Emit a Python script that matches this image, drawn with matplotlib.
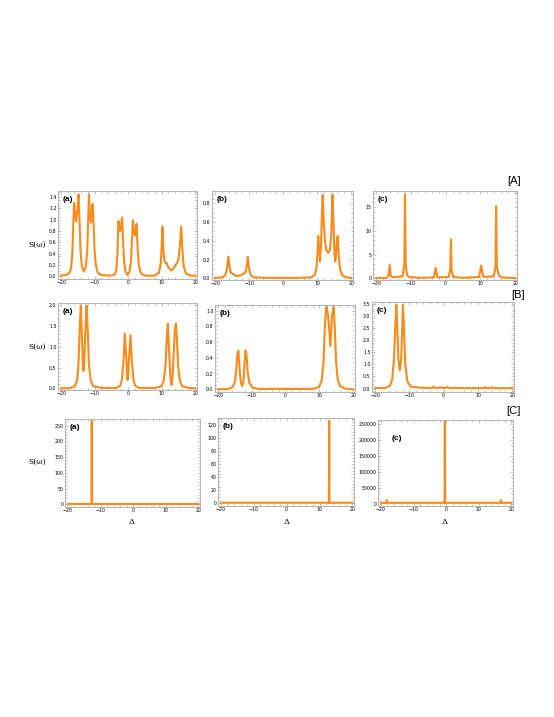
import numpy as np
import matplotlib.pyplot as plt
from matplotlib.ticker import MultipleLocator

# ------------------------------------------------------------
# Data: (delta, S) pairs per panel
# ------------------------------------------------------------

# [A] (a)
aa_x = [-20, -18.5, -17.5, -17, -16.6, -16.3, -16.1, -15.8, -15.5, -15.1, -14.8, -14.5,
        -14.2, -13.8, -13.2, -12.6, -12.2, -11.9, -11.7, -11.4, -11.1, -10.8, -10.6, -10.3,
        -10.0, -9.6, -9.0, -8, -5, -4, -3.5, -3.2, -2.9, -2.6, -2.4, -2.1, -1.8, -1.5,
        -1.2, -0.8, -0.2, 0.4, 0.8, 1.1, 1.4, 1.7, 2.0, 2.25, 2.5, 2.8, 3.2, 3.8, 5, 8,
        9.2, 9.7, 10.0, 10.2, 10.5, 10.8, 11.2, 11.5, 11.9, 12.8, 13.6, 14.1, 14.5, 15.0,
        15.4, 15.8, 16.1, 16.5, 17.2, 18.5, 20]
aa_y = [0.01, 0.02, 0.06, 0.15, 0.45, 1.0, 1.3, 1.1, 0.97, 1.2, 1.45, 1.0,
        0.45, 0.17, 0.08, 0.17, 0.45, 1.0, 1.45, 1.1, 0.95, 1.15, 1.28, 0.9,
        0.45, 0.18, 0.06, 0.02, 0.01, 0.03, 0.12, 0.42, 0.98, 0.85, 0.8, 0.9, 1.04, 0.6,
        0.25, 0.08, 0.02, 0.08, 0.25, 0.6, 0.99, 0.8, 0.72, 0.82, 0.93, 0.5, 0.18, 0.05, 0.01, 0.01,
        0.07, 0.22, 0.55, 0.88, 0.45, 0.27, 0.23, 0.23, 0.16, 0.1, 0.14, 0.2, 0.23, 0.3,
        0.55, 0.88, 0.5, 0.18, 0.05, 0.01, 0.01]

# [A] (b)
ab_x = [-20, -18, -17.1, -16.6, -16.3, -16.1, -15.8, -15.4, -14.9, -14.3, -13.6, -12.6,
        -11.6, -11.0, -10.6, -10.4, -10.1, -9.6, -8.8, -5, 5, 8.3, 9.3, 9.8, 10.1, 10.3,
        10.55, 10.8, 11.1, 11.4, 11.6, 11.9, 12.3, 12.7, 13.2, 13.7, 14.1, 14.3, 14.5,
        14.8, 15.1, 15.3, 15.6, 15.8, 16.0, 16.3, 16.7, 17.4, 18.5, 20]
ab_y = [0.005, 0.008, 0.03, 0.08, 0.17, 0.23, 0.13, 0.06, 0.05, 0.035, 0.025, 0.03,
        0.05, 0.07, 0.15, 0.23, 0.12, 0.04, 0.01, 0.005, 0.005, 0.01, 0.04, 0.12, 0.3, 0.45,
        0.3, 0.18, 0.35, 0.7, 0.89, 0.6, 0.38, 0.3, 0.27, 0.3, 0.45, 0.7, 0.89,
        0.55, 0.25, 0.18, 0.3, 0.4, 0.45, 0.25, 0.1, 0.03, 0.01, 0.005]

# [A] (c)
ac_x = [-20, -17, -16.4, -16.1, -15.8, -15.3, -12.4, -11.9, -11.7, -11.5, -11.1, -10.5,
        -8, -3.4, -2.9, -2.4, 0.9, 1.3, 1.5, 1.7, 2.2, 5, 9.6, 10.2, 10.8, 13.8, 14.3, 14.5,
        14.7, 15.3, 16, 20]
ac_y = [0.05, 0.1, 0.6, 2.8, 0.6, 0.25, 0.4, 3.0, 17.7, 3.0, 0.6, 0.3,
        0.1, 0.2, 2.2, 0.2, 0.3, 2.0, 8.2, 1.5, 0.3, 0.1, 0.3, 2.7, 0.3, 0.4, 2.5, 15.2,
        2.5, 0.6, 0.2, 0.05]

# [B] (a)
ba_x = [-20, -17, -15.8, -15.2, -14.8, -14.4, -14.1, -13.8, -13.5, -13.3, -13.1, -12.8,
        -12.4, -12.1, -11.7, -11.2, -10.5, -8, -3.5, -2.4, -1.9, -1.4, -1.0, -0.6, -0.35,
        -0.2, -0.05, 0.3, 0.7, 1.1, 1.6, 2.1, 3.2, 8, 9.9, 10.6, 11.1, 11.5, 11.8, 12.2,
        12.6, 12.9, 13.2, 13.6, 13.9, 14.2, 14.5, 14.9, 15.4, 16.1, 18, 20]
ba_y = [0.0, 0.01, 0.06, 0.2, 0.6, 1.5, 2.0, 1.3, 0.6, 0.42, 0.6, 1.3,
        2.0, 1.5, 0.6, 0.2, 0.06, 0.01, 0.01, 0.06, 0.2, 0.65, 1.32, 0.8, 0.35,
        0.2, 0.3, 0.8, 1.28, 0.65, 0.2, 0.06, 0.01, 0.01, 0.05, 0.18, 0.55, 1.2, 1.56, 0.9,
        0.25, 0.08, 0.25, 0.9, 1.4, 1.56, 1.2, 0.5, 0.17, 0.05, 0.01, 0.0]

# [B] (b)
bb_x = [-20, -17, -15.6, -15.0, -14.6, -14.3, -14.0, -13.7, -13.3, -12.9, -12.5, -12.2,
        -11.9, -11.6, -11.2, -10.7, -9.8, -8, 8, 9.9, 10.7, 11.2, 11.6, 11.9, 12.1, 12.35,
        12.5, 12.8, 13.2, 13.5, 13.7, 13.95, 14.2, 14.5, 14.9, 15.4, 16.1, 17.5, 20]
bb_y = [0.0, 0.005, 0.03, 0.1, 0.25, 0.45, 0.49, 0.3, 0.1, 0.04, 0.1, 0.3,
        0.49, 0.45, 0.2, 0.08, 0.02, 0.005, 0.005, 0.03, 0.12, 0.35, 0.8, 1.0, 1.05, 0.97,
        0.95, 0.8, 0.55, 0.75, 0.95, 0.98, 1.05, 0.8, 0.35, 0.12, 0.04, 0.01, 0.0]

# [B] (c)
bc_x = [-20, -17, -15.6, -15.0, -14.5, -14.1, -13.8, -13.5, -13.2, -12.8, -12.4, -12.1,
        -11.9, -11.6, -11.2, -10.6, -9.6, -6, -3.4, -3.0, -2.6, -1.4, -1.0, -0.6, 0.6, 1.0,
        1.4, 6, 11.6, 12.0, 12.4, 13.6, 14.0, 14.4, 20]
bc_y = [0.02, 0.03, 0.12, 0.4, 1.2, 2.6, 3.45, 2.4, 1.2, 0.75, 1.2, 2.4,
        3.45, 2.6, 1.0, 0.3, 0.08, 0.03, 0.03, 0.08, 0.03, 0.03, 0.06, 0.03, 0.03, 0.08,
        0.03, 0.02, 0.02, 0.06, 0.02, 0.02, 0.06, 0.02, 0.02]

# [C] (a)
ca_x = [-20, -12.8, -12.7, -12.6, 20]
ca_y = [1, 1, 265, 1, 1]

# [C] (b)
cb_x = [-20, 12.85, 12.95, 13.05, 20]
cb_y = [1, 1, 127, 1, 1]

# [C] (c)
cc_x = [-20, -18.3, -18.2, -18.1, -0.5, -0.4, -0.3, 16.7, 16.8, 16.9, 20]
cc_y = [4000, 4000, 12000, 4000, 4000, 257000, 4000, 4000, 12000, 4000, 4000]

# ------------------------------------------------------------
# Layout (pixel boxes: left, right, top, bottom) and styles
# ------------------------------------------------------------
W, H = 554, 717
ORANGE = '#F98A1C'
FRAME = '#A8A8A8'

panels = [
    # x, y, box, ylim, ymajor, yminor, label, fmt
    (aa_x, aa_y, (58, 197, 191, 279), (-0.05, 1.51), 0.2, 0.05, '(a)', '{:.1f}'),
    (ab_x, ab_y, (212, 353, 191, 280), (-0.018, 0.93), 0.2, 0.05, '(b)', '{:.1f}'),
    (ac_x, ac_y, (373, 517, 191, 280), (-0.35, 18.4), 5, 1, '(c)', '{:.0f}'),
    (ba_x, ba_y, (58, 197, 303, 390), (-0.04, 2.06), 0.5, 0.1, '(a)', '{:.1f}'),
    (bb_x, bb_y, (215, 355, 305, 392), (-0.034, 1.07), 0.2, 0.05, '(b)', '{:.1f}'),
    (bc_x, bc_y, (372, 514, 302, 392), (-0.14, 3.57), 0.5, 0.1, '(c)', '{:.1f}'),
    (ca_x, ca_y, (65, 200, 419, 507), (-8.5, 271), 50, 10, '(a)', '{:.0f}'),
    (cb_x, cb_y, (218, 354, 418, 506), (-4, 131), 20, 5, '(b)', '{:.0f}'),
    (cc_x, cc_y, (378, 513, 420, 506), (-6000, 262000), 50000, 10000, '(c)', '{:.0f}'),
]

fig = plt.figure(figsize=(W / 100, H / 100), dpi=100)

axes = []
for i, (xs, ys, box, ylim, ymaj, ymin, lab, fmt) in enumerate(panels):
    l, r, t, b = box
    ax = fig.add_axes([l / W, 1 - b / H, (r - l) / W, (b - t) / H])
    ax.plot(xs, ys, color=ORANGE, lw=1.5, solid_joinstyle='round')
    ax.set_xlim(-20.9, 20.5)
    ax.set_ylim(*ylim)
    ax.xaxis.set_major_locator(MultipleLocator(10))
    ax.xaxis.set_minor_locator(MultipleLocator(2))
    ax.yaxis.set_major_locator(MultipleLocator(ymaj))
    ax.yaxis.set_minor_locator(MultipleLocator(ymin))
    ax.set_yticks([v for v in ax.get_yticks() if ylim[0] <= v <= ylim[1]])
    ax.set_yticklabels([fmt.format(v) for v in ax.get_yticks()])
    ax.tick_params(which='both', direction='in', top=True, right=True,
                   color=FRAME, width=0.5, labelsize=3.4, pad=1.0)
    ax.tick_params(which='major', length=2.5)
    ax.tick_params(which='minor', length=1.3)
    for s in ax.spines.values():
        s.set_color(FRAME)
        s.set_linewidth(0.6)
    lx, ly = (0.1, 0.78) if i == 8 else (0.035, 0.9)
    ax.text(lx, ly, lab, transform=ax.transAxes, fontsize=6, fontweight='bold',
            family='Liberation Sans', va='center', ha='left')
    axes.append(ax)

# y labels S(ω)
for x, y in [(37, 245), (37, 347), (37, 462)]:
    fig.text(x / W, 1 - y / H, 'S(ω)', fontsize=5.5, family='DejaVu Serif',
             ha='center', va='center')

# x labels Δ
for x in [132, 287, 445]:
    fig.text(x / W, 1 - 522 / H, 'Δ', fontsize=6, family='DejaVu Serif',
             ha='center', va='center')

# group labels
for txt, x, y in [('[A]', 514, 181), ('[B]', 518, 295), ('[C]', 513, 411)]:
    fig.text(x / W, 1 - y / H, txt, fontsize=8, family='Liberation Sans',
             ha='center', va='center')

fig.savefig('out.png', dpi=100)
